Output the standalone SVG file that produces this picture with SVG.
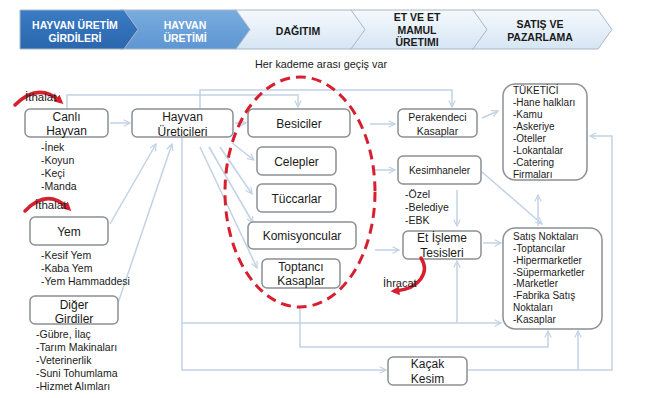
<svg xmlns="http://www.w3.org/2000/svg" width="650" height="398" viewBox="0 0 650 398">
<style>
text{font-family:"Liberation Sans",Arial,sans-serif;fill:#1a1a1a}
.hd{font-size:10.5px;font-weight:bold;text-anchor:middle}
.hw{fill:#ffffff}
.bx{fill:#ffffff;stroke:#8b9096;stroke-width:1.5}
.lb{font-size:12px;text-anchor:middle}
.ls{font-size:10.5px}
.lt{font-size:10px}
.cn{fill:none;stroke:#c2d2e5;stroke-width:1.5}
.ar{marker-end:url(#arr)}
.red{fill:none;stroke:#d7202f;stroke-width:3.5;stroke-linecap:round}
.chl{stroke:#a9b7c8;stroke-width:1}
</style>
<defs>
<marker id="arr" viewBox="0 0 10 10" refX="9" refY="5" markerWidth="8" markerHeight="8" markerUnits="userSpaceOnUse" orient="auto">
<path d="M1,1 L9,5 L1,9" fill="none" stroke="#c2d2e5" stroke-width="1.5"/>
</marker>
<marker id="rarr" viewBox="0 0 10 10" refX="5" refY="5" markerWidth="9" markerHeight="9" markerUnits="userSpaceOnUse" orient="auto">
<path d="M0,0 L10,5 L0,10 Z" fill="#d7202f"/>
</marker>
<linearGradient id="lg" x1="0" y1="0" x2="0" y2="1">
<stop offset="0" stop-color="#f5f9fd"/>
<stop offset="1" stop-color="#d6e5f4"/>
</linearGradient>
<linearGradient id="dg" x1="0" y1="0" x2="0" y2="1">
<stop offset="0" stop-color="#3a7cc4"/>
<stop offset="1" stop-color="#2a66ad"/>
</linearGradient>
<linearGradient id="mg" x1="0" y1="0" x2="0" y2="1">
<stop offset="0" stop-color="#79acdf"/>
<stop offset="1" stop-color="#5e96d2"/>
</linearGradient>
</defs>

<g id="header">
<polygon class="chl" fill="url(#lg)" points="472,10 598,10 612,29.5 598,49 472,49 486,29.5"/>
<polygon class="chl" fill="url(#lg)" points="350,10 473,10 487,29.5 473,49 350,49 364,29.5"/>
<polygon class="chl" fill="url(#lg)" points="235,10 351,10 365,29.5 351,49 235,49 249,29.5"/>
<polygon class="chl" fill="url(#mg)" points="120,10 236,10 250,29.5 236,49 120,49 134,29.5"/>
<polygon class="chl" fill="url(#dg)" points="20,10 124,10 138,29.5 124,49 20,49"/>
<text class="hd hw" x="75" y="28.5">HAYVAN ÜRETİM</text>
<text class="hd hw" x="75" y="42">GİRDİLERİ</text>
<text class="hd hw" x="185" y="28.5">HAYVAN</text>
<text class="hd hw" x="185" y="42">ÜRETİMİ</text>
<text class="hd" x="298" y="35">DAĞITIM</text>
<text class="hd" x="417" y="21">ET VE ET</text>
<text class="hd" x="417" y="33.5">MAMUL</text>
<text class="hd" x="417" y="46">ÜRETIMI</text>
<text class="hd" x="540" y="28">SATIŞ VE</text>
<text class="hd" x="540" y="40.5">PAZARLAMA</text>
</g>

<text x="255" y="68" style="font-size:10.8px">Her kademe arası geçiş var</text>

<g id="connectors">
<path class="cn ar" d="M110,123 H130"/>
<path class="cn ar" d="M67,109 V95 H298 V107"/>
<path class="cn ar" d="M200,109 V90 H452 V107"/>
<path class="cn ar" d="M235,123 H246"/>
<path class="cn ar" d="M232,143 L254,160"/>
<path class="cn ar" d="M220,147 L252,194"/>
<path class="cn ar" d="M209,147 L253,223"/>
<path class="cn ar" d="M200,147 L257,268"/>
<path class="cn ar" d="M110,224 L156,144"/>
<path class="cn ar" d="M118,303 L172,144"/>
<path class="cn ar" d="M182,137 V370 H386"/>
<path class="cn ar" d="M182,323 H501"/>
<path class="cn ar" d="M457,323 V261"/>
<path class="cn ar" d="M300,307 V347 H548 V331"/>
<path class="cn ar" d="M467,370 H612 V136 H590"/>
<path class="cn ar" d="M578,370 V331"/>
<path class="cn ar" d="M370,124 H395"/>
<path class="cn ar" d="M372,170 H395"/>
<path class="cn ar" d="M482,118 L498,111"/>
<path class="cn ar" d="M482,172 L542,224"/>
<path class="cn ar" d="M538,226 V195"/>
<path class="cn ar" d="M457,190 V226"/>
<path class="cn ar" d="M375,250 H399"/>
<path class="cn ar" d="M483,243 H501"/>
</g>

<g id="canli-hayvan">
<path class="red" d="M15,105 Q38,82 60,101" marker-end="url(#rarr)"/>
<text x="25" y="101" style="font-size:11.5px">İthalat</text>
<rect class="bx" x="25" y="109" width="83" height="28" rx="5"/>
<text class="lb" x="66.5" y="121">Canlı</text>
<text class="lb" x="66.5" y="135">Hayvan</text>
<text class="ls" x="41" y="151">-İnek</text>
<text class="ls" x="41" y="164">-Koyun</text>
<text class="ls" x="41" y="177">-Keçi</text>
<text class="ls" x="41" y="190">-Manda</text>
</g>

<g id="yem">
<path class="red" d="M25,211 Q47,188 68,208" marker-end="url(#rarr)"/>
<text x="35" y="208.5" style="font-size:11.5px">İthalat</text>
<rect class="bx" x="30" y="217" width="78" height="28" rx="5"/>
<text class="lb" x="69" y="236">Yem</text>
<text class="ls" x="41" y="259">-Kesif Yem</text>
<text class="ls" x="41" y="272">-Kaba Yem</text>
<text class="ls" x="41" y="285">-Yem Hammaddesi</text>
</g>

<g id="diger-girdiler">
<rect class="bx" x="30" y="296" width="88" height="28" rx="5"/>
<text class="lb" x="74" y="308.5">Diğer</text>
<text class="lb" x="74" y="322.5">Girdiler</text>
<text class="ls" x="36" y="338">-Gübre, İlaç</text>
<text class="ls" x="36" y="351">-Tarım Makinaları</text>
<text class="ls" x="36" y="364">-Veterinerlik</text>
<text class="ls" x="36" y="377">-Suni Tohumlama</text>
<text class="ls" x="36" y="390">-Hizmet Alımları</text>
</g>

<g id="hayvan-ureticileri">
<rect class="bx" x="132" y="109" width="101" height="28" rx="5"/>
<text class="lb" x="182.5" y="121">Hayvan</text>
<text class="lb" x="182.5" y="135.5">Üreticileri</text>
</g>

<g id="besiciler">
<rect class="bx" x="248" y="109" width="102" height="28" rx="5"/>
<text class="lb" x="299" y="127.5">Besiciler</text>
</g>
<g id="celepler">
<rect class="bx" x="257" y="147" width="79" height="28" rx="5"/>
<text class="lb" x="296.5" y="165.5">Celepler</text>
</g>
<g id="tuccarlar">
<rect class="bx" x="257" y="184" width="79" height="28" rx="5"/>
<text class="lb" x="296.5" y="202.5">Tüccarlar</text>
</g>
<g id="komisyoncular">
<rect class="bx" x="248" y="222" width="108" height="27" rx="5"/>
<text class="lb" x="302" y="240">Komisyoncular</text>
</g>
<g id="toptanci-kasaplar">
<rect class="bx" x="262" y="259" width="78" height="29" rx="5"/>
<text class="lb" x="301" y="270.5">Toptancı</text>
<text class="lb" x="301" y="284.5">Kasaplar</text>
</g>

<g id="dagitim-grubu">
<ellipse cx="300" cy="192" rx="75" ry="115" fill="none" stroke="#d7202f" stroke-width="3" stroke-dasharray="10 6"/>
</g>

<g id="perakendeci-kasaplar">
<rect class="bx" x="398" y="109" width="79" height="28" rx="5"/>
<text x="437.5" y="121" style="font-size:10.5px;text-anchor:middle">Perakendeci</text>
<text x="437.5" y="135" style="font-size:10.5px;text-anchor:middle">Kasaplar</text>
</g>

<g id="kesimhaneler">
<rect class="bx" x="398" y="156" width="83" height="28" rx="5"/>
<text x="439.5" y="173.5" style="font-size:10px;text-anchor:middle">Kesimhaneler</text>
<text class="ls" x="405" y="197.5">-Özel</text>
<text class="ls" x="405" y="210.5">-Belediye</text>
<text class="ls" x="405" y="223.5">-EBK</text>
</g>

<g id="et-isleme-tesisleri">
<rect class="bx" x="403" y="231" width="78" height="28" rx="5"/>
<text class="lb" x="442" y="241.5">Et İşleme</text>
<text class="lb" x="442" y="256.5">Tesisleri</text>
<path class="red" d="M421,258 C430,272 420,289 395,291" marker-end="url(#rarr)"/>
<text x="383" y="287" style="font-size:11px">İhracat</text>
</g>

<g id="kacak-kesim">
<rect class="bx" x="388" y="357" width="79" height="28" rx="5"/>
<text class="lb" x="427.5" y="367.5">Kaçak</text>
<text class="lb" x="427.5" y="382.5">Kesim</text>
</g>

<g id="tuketici">
<rect class="bx" x="503" y="84" width="84" height="96" rx="12"/>
<text class="lt" x="513" y="94">TÜKETİCİ</text>
<text class="lt" x="513" y="106">-Hane halkları</text>
<text class="lt" x="513" y="118">-Kamu</text>
<text class="lt" x="513" y="130">-Askeriye</text>
<text class="lt" x="513" y="142">-Oteller</text>
<text class="lt" x="513" y="154">-Lokantalar</text>
<text class="lt" x="513" y="166">-Catering</text>
<text class="lt" x="513" y="177.5">Firmaları</text>
</g>

<g id="satis-noktalari">
<rect class="bx" x="503" y="228" width="99" height="101" rx="12"/>
<text class="lt" x="513" y="239.5">Satış Noktaları</text>
<text class="lt" x="513" y="251.5">-Toptancılar</text>
<text class="lt" x="513" y="263.5">-Hipermarketler</text>
<text class="lt" x="513" y="275.5">-Süpermarketler</text>
<text class="lt" x="513" y="287">-Marketler</text>
<text class="lt" x="513" y="299">-Fabrika Satış</text>
<text class="lt" x="513" y="311">Noktaları</text>
<text class="lt" x="513" y="322.5">-Kasaplar</text>
</g>
</svg>
